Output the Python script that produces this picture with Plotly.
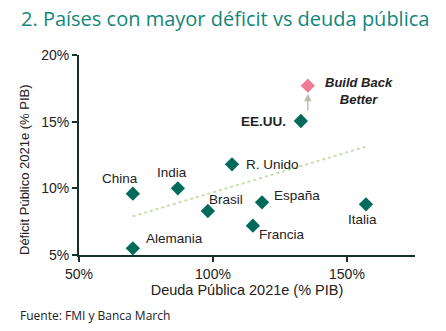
import plotly.graph_objects as go

countries = ["China", "India", "Alemania", "Brasil", "R. Unido", "España", "Francia", "Italia", "EE.UU."]
deuda = [70.1, 86.9, 70.1, 98.1, 107.1, 118.3, 114.9, 157.1, 132.8]
deficit = [9.6, 10.0, 5.5, 8.3, 11.8, 8.95, 7.2, 8.8, 15.05]
bbb_x = [135.4]
bbb_y = [17.7]
trend_x = [70, 157.5]
trend_y = [7.9, 13.15]
x_ticks = [50, 100, 150]
y_ticks = [5, 10, 15, 20]

FONT = "Liberation Sans, Arial"
TXT = "#222222"
AXC = "#16302a"

# label placement (pixel offsets, anchors)
label_style = {
    "China": dict(xshift=-13, yshift=15, xanchor="center", yanchor="middle"),
    "India": dict(xshift=-6, yshift=16, xanchor="center", yanchor="middle"),
    "Alemania": dict(xshift=11, yshift=10, xanchor="left", yanchor="middle"),
    "Brasil": dict(xshift=-1, yshift=12, xanchor="left", yanchor="middle"),
    "R. Unido": dict(xshift=12, yshift=0, xanchor="left", yanchor="middle"),
    "España": dict(xshift=10, yshift=7, xanchor="left", yanchor="middle"),
    "Francia": dict(xshift=4, yshift=-9, xanchor="left", yanchor="middle"),
    "Italia": dict(xshift=-3, yshift=-15, xanchor="center", yanchor="middle"),
    "EE.UU.": dict(xshift=-13, yshift=0, xanchor="right", yanchor="middle"),
}

fig = go.Figure()
fig.add_trace(go.Scatter(x=trend_x, y=trend_y, mode="lines",
                         line=dict(color="#c8dfaa", width=2, dash="dot"),
                         hoverinfo="skip", showlegend=False))
fig.add_trace(go.Scatter(x=deuda, y=deficit, mode="markers",
                         marker=dict(symbol="diamond", size=11, color="#006b5a"),
                         showlegend=False))
fig.add_trace(go.Scatter(x=bbb_x, y=bbb_y, mode="markers",
                         marker=dict(symbol="diamond", size=11, color="#f07a94"),
                         showlegend=False))

for name, xv, yv in zip(countries, deuda, deficit):
    st = label_style[name]
    txt = f"<b>{name}</b>" if name == "EE.UU." else name
    fig.add_annotation(x=xv, y=yv, text=txt, showarrow=False,
                       font=dict(family=FONT, size=13.5, color=TXT), **st)

# arrow from EE.UU. up to Build Back Better
fig.add_annotation(x=bbb_x[0], y=bbb_y[0], ax=bbb_x[0], ay=deficit[-1],
                   xref="x", yref="y", axref="x", ayref="y", text="",
                   showarrow=True, arrowhead=2, arrowsize=1, arrowwidth=1.5,
                   arrowcolor="#c4bcae", standoff=8, startstandoff=9)
fig.add_annotation(x=bbb_x[0], y=bbb_y[0], text="<b><i>Build Back<br>Better</i></b>",
                   showarrow=False, xanchor="center", yanchor="middle",
                   xshift=51, yshift=-5, align="center",
                   font=dict(family=FONT, size=13, color=TXT))

fig.add_annotation(text="2. Países con mayor déficit vs deuda pública", xref="paper", yref="paper",
                   x=0, y=1, xanchor="left", yanchor="middle", showarrow=False,
                   xshift=-60, yshift=37,
                   font=dict(family="Open Sans", size=20, color="#12867a"))
fig.add_annotation(text="Fuente: FMI y Banca March", xref="paper", yref="paper",
                   x=0, y=0, xanchor="left", yanchor="middle", showarrow=False,
                   xshift=-61, yshift=-60,
                   font=dict(family="Open Sans", size=12, color=TXT))
fig.add_annotation(text="Déficit Público 2021e (% PIB)", xref="paper", yref="paper",
                   x=0, y=0.425, xanchor="center", yanchor="middle", showarrow=False,
                   xshift=-55, textangle=-90,
                   font=dict(family=FONT, size=13, color=TXT))

axis_common = dict(showgrid=False, zeroline=False, showline=True, linecolor=AXC,
                   linewidth=2, ticks="outside", ticklen=5, tickwidth=2, tickcolor=AXC,
                   tickfont=dict(family=FONT, size=14, color=TXT))
fig.update_xaxes(range=[50, 175.4], tickvals=x_ticks, ticktext=[f"{v}%" for v in x_ticks],
                 title=dict(text="Deuda Pública 2021e (% PIB)", standoff=3,
                            font=dict(family=FONT, size=14.5, color=TXT)),
                 **axis_common)
fig.update_yaxes(range=[5, 20], tickvals=y_ticks, ticktext=[f"{v}%" for v in y_ticks],
                 **axis_common)

fig.update_layout(width=446, height=331, margin=dict(l=79, r=31, t=55, b=76),
                  plot_bgcolor="white", paper_bgcolor="white")
fig.write_html("out.html")
